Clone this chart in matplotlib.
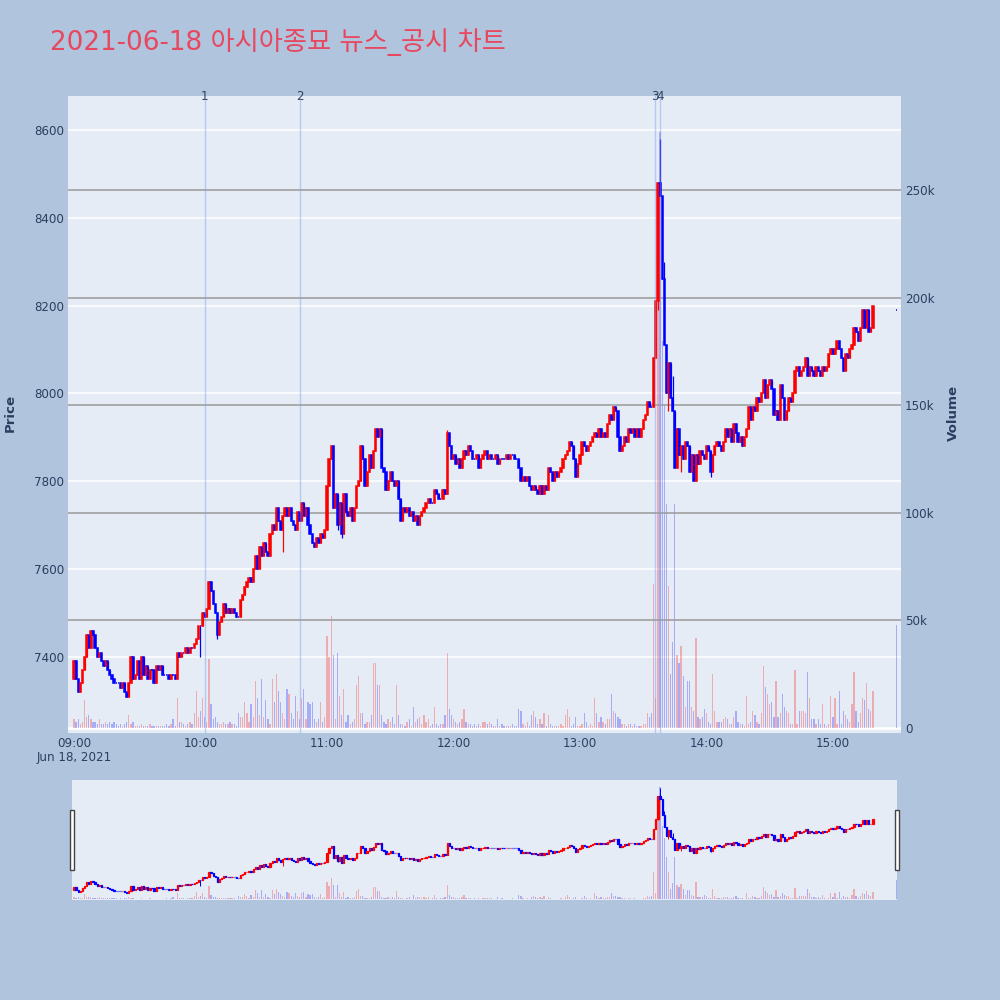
import numpy as np
import pandas as pd
import matplotlib
matplotlib.use('Agg')
import matplotlib.pyplot as plt
import matplotlib.dates as mdates
import matplotlib.transforms as mtransforms
from matplotlib.patches import Rectangle

plt.rcParams['font.family'] = ['DejaVu Sans', 'Noto Sans CJK KR']

title = '2021-06-18 아시아종묘 뉴스_공시 차트'
day = '2021-06-18'

# 1-minute closes from 09:00 to 15:19
closes = [
    7390, 7350, 7320, 7340, 7370, 7400, 7450, 7420, 7460, 7450,
    7420, 7400, 7410, 7390, 7380, 7390, 7370, 7360, 7350, 7340,
    7340, 7340, 7330, 7340, 7320, 7310, 7340, 7400, 7350, 7360,
    7390, 7350, 7400, 7360, 7380, 7350, 7370, 7370, 7340, 7380,
    7370, 7380, 7360, 7360, 7360, 7350, 7360, 7360, 7350, 7410,
    7400, 7410, 7410, 7420, 7410, 7420, 7420, 7430, 7440, 7470,
    7470, 7500, 7490, 7510, 7570, 7550, 7520, 7500, 7450, 7480,
    7490, 7520, 7500, 7510, 7500, 7510, 7500, 7490, 7490, 7530,
    7540, 7560, 7570, 7580, 7570, 7600, 7630, 7600, 7650, 7630,
    7660, 7640, 7630, 7680, 7700, 7690, 7740, 7710, 7690, 7720,
    7740, 7720, 7740, 7710, 7700, 7690, 7730, 7710, 7750, 7720,
    7740, 7700, 7680, 7660, 7650, 7670, 7660, 7680, 7670, 7690,
    7790, 7850, 7880, 7740, 7770, 7700, 7750, 7680, 7770, 7730,
    7720, 7740, 7710, 7740, 7790, 7800, 7880, 7850, 7790, 7820,
    7860, 7830, 7870, 7920, 7900, 7920, 7830, 7820, 7780, 7800,
    7820, 7800, 7790, 7800, 7760, 7710, 7740, 7730, 7740, 7720,
    7730, 7710, 7720, 7700, 7720, 7730, 7740, 7750, 7760, 7750,
    7750, 7780, 7770, 7760, 7760, 7780, 7770, 7910, 7880, 7850,
    7860, 7840, 7850, 7830, 7850, 7870, 7860, 7880, 7870, 7850,
    7850, 7860, 7830, 7850, 7860, 7870, 7850, 7860, 7850, 7850,
    7860, 7840, 7850, 7850, 7850, 7860, 7850, 7860, 7860, 7850,
    7850, 7830, 7800, 7810, 7800, 7810, 7790, 7780, 7790, 7780,
    7770, 7790, 7770, 7790, 7780, 7830, 7820, 7800, 7820, 7810,
    7820, 7830, 7850, 7860, 7870, 7890, 7880, 7850, 7810, 7840,
    7860, 7890, 7880, 7870, 7880, 7890, 7900, 7910, 7900, 7920,
    7900, 7910, 7900, 7930, 7950, 7940, 7970, 7960, 7900, 7870,
    7880, 7900, 7890, 7920, 7910, 7920, 7900, 7920, 7900, 7920,
    7940, 7950, 7980, 7970, 7970, 8080, 8210, 8480, 8450, 8260,
    8110, 8000, 8070, 7990, 7960, 7830, 7920, 7860, 7880, 7850,
    7890, 7880, 7820, 7860, 7800, 7860, 7840, 7870, 7860, 7850,
    7880, 7870, 7820, 7860, 7880, 7890, 7880, 7870, 7890, 7920,
    7900, 7920, 7890, 7930, 7910, 7890, 7900, 7880, 7900, 7920,
    7970, 7940, 7970, 7960, 7990, 7980, 8000, 8030, 7990, 8020,
    8030, 8010, 7950, 7960, 7940, 8020, 7990, 7940, 7960, 7990,
    7980, 8000, 8050, 8060, 8040, 8050, 8060, 8080, 8040, 8060,
    8050, 8040, 8060, 8050, 8040, 8060, 8050, 8060, 8090, 8100,
    8090, 8100, 8120, 8100, 8080, 8050, 8090, 8080, 8100, 8110,
    8150, 8140, 8120, 8150, 8190, 8150, 8190, 8140, 8150, 8200,
]
first_open = 7350
extra_high = {177: 7917, 278: 8580, 280: 8300, 283: 8060, 284: 8040}
extra_low = {60: 7400, 68: 7440, 99: 7640, 125: 7690, 127: 7670, 277: 8190,
             282: 7960, 288: 7820, 302: 7810}

# volume per minute, thousands of shares
volumes_k = [
    4, 3, 4, 2, 3, 13, 5, 6, 4, 3,
    3, 2, 4, 2, 2, 3, 2, 3, 2, 3,
    2, 1, 2, 1, 2, 3, 6, 2, 3, 1,
    1, 1, 2, 1, 1, 1, 2, 1, 1, 1,
    1, 1, 1, 1, 2, 1, 2, 4, 1, 14,
    3, 3, 2, 1, 2, 3, 2, 7, 17, 5,
    8, 14, 5, 3, 32, 11, 4, 5, 3, 2,
    2, 3, 2, 2, 3, 2, 2, 1, 7, 5,
    5, 12, 7, 3, 11, 5, 22, 14, 6, 23,
    5, 13, 4, 2, 23, 12, 25, 17, 12, 7,
    4, 18, 16, 7, 4, 15, 8, 4, 14, 18,
    4, 12, 11, 12, 4, 3, 4, 12, 3, 5,
    43, 33, 52, 34, 4, 35, 15, 6, 18, 3,
    6, 2, 3, 4, 20, 24, 7, 7, 2, 3,
    3, 6, 30, 30, 20, 20, 6, 3, 2, 4,
    3, 5, 2, 20, 6, 2, 2, 1, 3, 4,
    1, 10, 3, 4, 5, 2, 6, 3, 4, 1,
    2, 10, 2, 1, 2, 2, 6, 35, 9, 6,
    4, 3, 2, 3, 4, 9, 3, 2, 2, 1,
    2, 1, 2, 1, 3, 3, 2, 3, 2, 1,
    1, 4, 1, 2, 1, 1, 1, 1, 2, 1,
    1, 9, 8, 2, 1, 3, 1, 6, 8, 5,
    2, 4, 2, 7, 1, 6, 2, 1, 1, 1,
    1, 2, 1, 6, 9, 5, 1, 2, 5, 1,
    1, 2, 7, 3, 1, 2, 1, 14, 7, 3,
    5, 3, 2, 4, 4, 16, 8, 7, 5, 4,
    2, 2, 1, 2, 2, 1, 2, 1, 1, 1,
    2, 2, 7, 5, 7, 67, 14, 250, 277, 180,
    150, 104, 66, 25, 40, 104, 34, 30, 38, 24,
    10, 22, 22, 10, 8, 42, 5, 4, 5, 9,
    7, 3, 2, 25, 8, 3, 3, 3, 4, 5,
    4, 2, 2, 5, 8, 3, 2, 2, 1, 15,
    2, 3, 8, 6, 3, 2, 7, 29, 19, 16,
    11, 12, 5, 22, 5, 7, 16, 10, 8, 7,
    2, 2, 27, 2, 8, 8, 8, 7, 26, 14,
    4, 4, 2, 4, 2, 11, 2, 1, 2, 15,
    5, 14, 2, 17, 2, 8, 6, 4, 3, 11,
    26, 8, 3, 7, 14, 13, 21, 9, 8, 17,
]

# closing auction
auction_time = '15:30'
auction_price = 8190
auction_volume_k = 48

news_times = ['10:02', '10:47', '13:35:30', '13:38']
news_labels = ['1', '2', '3', '4']
hour_labels = ['09:00', '10:00', '11:00', '12:00', '13:00', '14:00', '15:00']
price_ticks = [7400, 7600, 7800, 8000, 8200, 8400, 8600]
vol_ticks = [0, 50000, 100000, 150000, 200000, 250000]
vol_tick_labels = ['0', '50k', '100k', '150k', '200k', '250k']

# ---- build candles
times = pd.date_range(day + ' 09:00', periods=len(closes), freq='min')
times = times.append(pd.DatetimeIndex([pd.Timestamp(day + ' ' + auction_time)]))
t = mdates.date2num(times.to_pydatetime())
c = np.array(closes + [auction_price], dtype=float)
o = np.r_[first_open, closes[:-1], auction_price].astype(float)
h = np.maximum(o, c)
l = np.minimum(o, c)
for k, v in extra_high.items():
    h[k] = max(h[k], v)
for k, v in extra_low.items():
    l[k] = min(l[k], v)
vol = np.array(volumes_k + [auction_volume_k], dtype=float) * 1000
up = c > o
col = np.where(up, '#FF0000', '#0000FF')

one_min = 1 / 1440
t0 = mdates.date2num(pd.Timestamp(day + ' 09:00'))

BG = '#B0C4DE'
PLOT_BG = '#E5ECF6'
TXT = '#2A3F5F'
FS = 8.6

fig = plt.figure(figsize=(10, 10), dpi=100, facecolor=BG)


def draw(axp, axv, lw):
    axv.bar(t, vol, width=0.6 * one_min, color=col, alpha=0.27, linewidth=0)
    axp.vlines(t, l, h, colors=col, linewidth=lw * 0.8)
    axp.bar(t, c - o, bottom=o, width=0.6 * one_min, color=col,
            edgecolor=col, linewidth=lw)


def make_axes(rect, xlim):
    ax_bg = fig.add_axes(rect, zorder=1)
    ax_bg.set_facecolor(PLOT_BG)
    ax_v = fig.add_axes(rect, zorder=2)
    ax_v.patch.set_alpha(0)
    ax_c = fig.add_axes(rect, zorder=3)
    ax_c.patch.set_alpha(0)
    for a in (ax_bg, ax_v, ax_c):
        a.set_xlim(*xlim)
        a.set_ylim(7227, 8677)
        for s in a.spines.values():
            s.set_visible(False)
        a.tick_params(length=0, labelsize=FS, labelcolor=TXT)
    ax_v.set_ylim(-2300, 293700)
    return ax_bg, ax_v, ax_c


# ---- main chart
main_xlim = (t0 - 2.85 * one_min, t0 + 392.3 * one_min)
ax_bg, ax_v, ax_c = make_axes([0.068, 0.267, 0.833, 0.637], main_xlim)

ax_bg.set_yticks(price_ticks)
ax_bg.set_yticklabels([str(p) for p in price_ticks])
ax_bg.tick_params(axis='y', pad=3)
hour_pos = [mdates.date2num(pd.Timestamp(day + ' ' + s)) for s in hour_labels]
ax_bg.set_xticks(hour_pos)
ax_bg.set_xticklabels(hour_labels)
ax_bg.tick_params(axis='x', pad=3)
ax_bg.grid(axis='y', color='white', linewidth=1.1)
ax_bg.set_axisbelow(True)

ax_v.set_xticks([])
ax_v.yaxis.tick_right()
ax_v.set_yticks(vol_ticks)
ax_v.set_yticklabels(vol_tick_labels)
ax_v.tick_params(axis='y', pad=3)
for v in vol_ticks[1:]:
    ax_v.axhline(v, color='#999999', linewidth=1.1, zorder=3)
ax_v.axhline(0, color='white', linewidth=1.8, zorder=0)

ax_c.set_xticks([])
ax_c.set_yticks([])

draw(ax_c, ax_v, 1.1)

for s, lab in zip(news_times, news_labels):
    xn = mdates.date2num(pd.Timestamp(day + ' ' + s))
    ax_c.axvline(xn, color='#7F9BEA', alpha=0.45, linewidth=1.0, zorder=5)
    ax_c.text(xn, 1.0, lab, transform=ax_c.get_xaxis_transform(),
              ha='center', va='center', fontsize=FS, color=TXT)

trans = mtransforms.blended_transform_factory(ax_bg.transData, fig.transFigure)
ax_bg.text(t0, 0.243, 'Jun 18, 2021', transform=trans, ha='center', va='center',
           fontsize=FS, color=TXT)

fig.text(0.010, 0.587, 'Price', rotation=90, ha='center', va='center',
         fontsize=9.6, fontweight='bold', color=TXT)
fig.text(0.953, 0.587, 'Volume', rotation=90, ha='center', va='center',
         fontsize=9.6, fontweight='bold', color=TXT)
fig.text(0.050, 0.958, title, ha='left', va='center', fontsize=18.9,
         color='#E8485F')

# ---- range slider
slider_xlim = (t0 - 0.95 * one_min, t0 + 390.4 * one_min)
sb, sv, sc = make_axes([0.072, 0.100, 0.825, 0.120], slider_xlim)
for a in (sb, sv, sc):
    a.set_xticks([])
    a.set_yticks([])
draw(sc, sv, 0.9)

for xl in (0.0695, 0.8947):
    fig.patches.append(Rectangle((xl, 0.130), 0.0042, 0.060,
                                 transform=fig.transFigure, facecolor='white',
                                 edgecolor='#444444', linewidth=1.0, zorder=10))

fig.savefig('out.png', dpi=100, facecolor=BG)
